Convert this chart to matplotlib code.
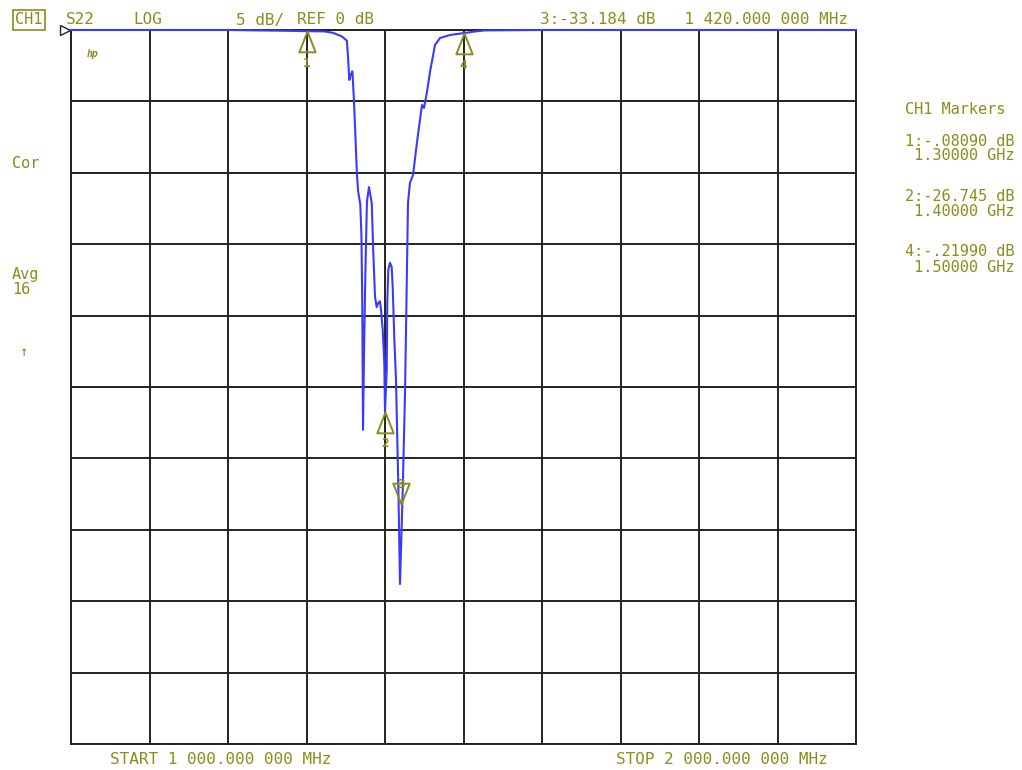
import matplotlib
matplotlib.use("Agg")
import matplotlib.pyplot as plt
from matplotlib.path import Path
from matplotlib.markers import MarkerStyle

# S22 trace (MHz, dB)
freq_mhz = [1000, 1100, 1200, 1266, 1300, 1323, 1334, 1345, 1351.5, 1353,
            1354.5, 1356.5, 1358.5, 1360.5, 1364.3, 1365.8, 1368.5, 1370.0, 1371.0,
            1372.0, 1373.3, 1375.0, 1377.0, 1379.6, 1383.1, 1385.1, 1387.3, 1389.4,
            1391.5, 1393.6, 1394.9, 1397.1, 1399.1, 1400.0, 1402.2, 1402.9, 1404.2,
            1406.4, 1408.5, 1409.8, 1411.8, 1414.0, 1417.0, 1419.1, 1422.5, 1425.5,
            1429.3, 1431.8, 1435.7, 1440.8, 1447.1, 1449.7, 1453.5, 1457.3, 1463.7,
            1470.1, 1482.8, 1500, 1515, 1527, 1600, 2000]
s22_db = [0, 0, 0, -0.05, -0.08, -0.1, -0.2, -0.45, -0.75, -2.0,
          -3.5, -3.1, -2.9, -5.0, -10.15, -11.3, -12.2, -14.5, -19.0,
          -28.0, -22.5, -17.0, -12.0, -11.0, -12.1, -15.6, -18.7, -19.4,
          -19.1, -19.0, -19.6, -21.0, -23.3, -26.745, -23.8, -19.1, -16.8,
          -16.3, -16.6, -18.0, -21.5, -24.5, -32.0, -38.8, -32.4, -25.4,
          -12.1, -10.7, -10.15, -7.84, -5.25, -5.46, -4.34, -2.94, -1.05,
          -0.56, -0.35, -0.22, -0.1, -0.03, 0, 0]

marker_ids = [1, 2, 3, 4]
marker_freq = [1300, 1400, 1420, 1500]
marker_db = [-0.0809, -26.745, -33.184, -0.2199]
marker_up = [True, True, False, True]

marker_readouts = [("1:-.08090 dB", " 1.30000 GHz"),
                   ("2:-26.745 dB", " 1.40000 GHz"),
                   ("4:-.21990 dB", " 1.50000 GHz")]

OLIVE = "#8c8c1c"
BLUE = "#3a3aff"
MONO = "DejaVu Sans Mono"

fig = plt.figure(figsize=(10.22, 7.70), dpi=100)
ax = fig.add_axes([71 / 1022, 26 / 770, 785 / 1022, 714 / 770])
ax.set_xlim(1000, 2000)
ax.set_ylim(-50, 0)
ax.set_xticks(range(1000, 2001, 100))
ax.set_yticks(range(-50, 1, 5))
ax.grid(True, color="#222222", linewidth=1.4)
ax.tick_params(length=0, labelbottom=False, labelleft=False)
for s in ax.spines.values():
    s.set_color("#222222")
    s.set_linewidth(1.4)

ax.plot(freq_mhz, s22_db, color=BLUE, linewidth=1.5, clip_on=False, zorder=3)

# marker triangles with the apex on the point
tri_up = MarkerStyle(Path([(0, 0), (-0.55, -1.4), (0.55, -1.4), (0, 0)]))
tri_dn = MarkerStyle(Path([(0, 0), (-0.55, 1.4), (0.55, 1.4), (0, 0)]))
for mid, f, d, up in zip(marker_ids, marker_freq, marker_db, marker_up):
    ax.plot([f], [d], marker=tri_up if up else tri_dn, markersize=30,
            markerfacecolor="none", markeredgecolor=OLIVE, markeredgewidth=1.4,
            clip_on=False, zorder=4)
    off = -23 if up else 14
    ax.annotate(str(mid), (f, d), xytext=(0, off), textcoords="offset points",
                ha="center", va="center", color=OLIVE, fontsize=9,
                family=MONO, fontweight="bold")

# reference position marker on the left edge
ax.plot([-0.008], [1.0], marker=">", markersize=7, markerfacecolor="none",
        markeredgecolor="#222222", transform=ax.transAxes, clip_on=False)
ax.text(0.02, 0.967, "hp", transform=ax.transAxes, color=OLIVE, fontsize=7,
        family=MONO, fontstyle="italic", fontweight="bold", va="center")

def ftext(x, y, s, size=11.5, **kw):
    fig.text(x / 1022, 1 - y / 770, s, color=OLIVE, fontsize=size, family=MONO,
             va="center", ha="left", **kw)

ftext(15, 20, "CH1", size=11, bbox=dict(boxstyle="square,pad=0.15", facecolor="none",
                                         edgecolor=OLIVE, linewidth=1.2))
ftext(66, 20, "S22")
ftext(133, 20, "LOG")
ftext(236, 20, "5 dB/")
ftext(297, 20, "REF 0 dB")
ftext(540, 20, "3:-33.184 dB   1 420.000 000 MHz")

ftext(12, 164, "Cor", size=11)
ftext(12, 274, "Avg", size=11)
ftext(12, 290, "16", size=11)
ftext(19, 352, "\u2191", size=10)

ftext(905, 110, "CH1 Markers", size=11)
for i, (val, freq) in enumerate(marker_readouts):
    ftext(905, 141 + 55.5 * i, val, size=11)
    ftext(905, 156 + 55.5 * i, freq, size=11)

ftext(110, 760, "START 1 000.000 000 MHz")
ftext(616, 760, "STOP 2 000.000 000 MHz")

fig.savefig("out.png", dpi=100, facecolor="white")
